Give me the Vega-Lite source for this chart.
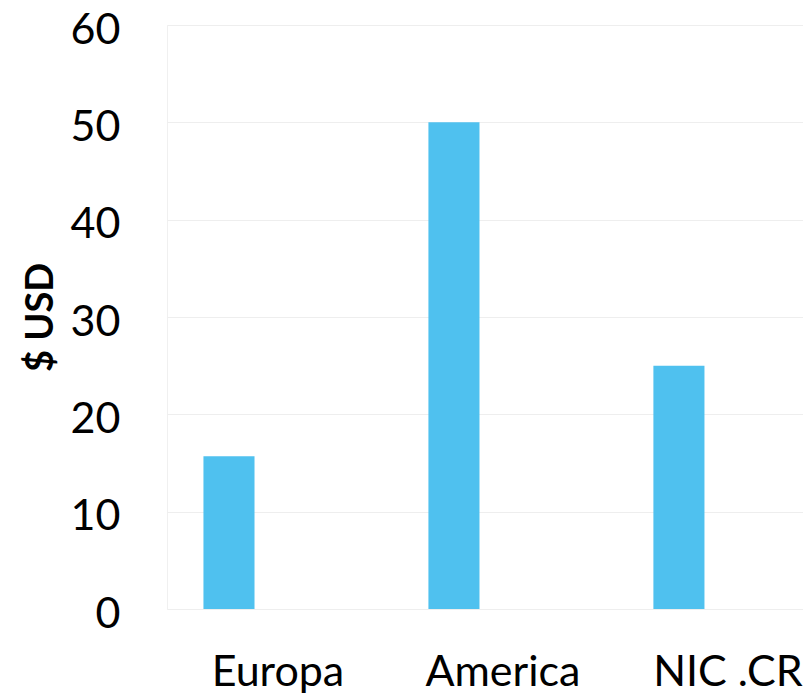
{
  "$schema": "https://vega.github.io/schema/vega-lite/v6.json",
  "autosize": "none",
  "padding": {"left": 167, "top": 25, "right": 0, "bottom": 87},
  "width": 636,
  "height": 584,
  "background": "#ffffff",
  "config": {
    "font": "Lato",
    "view": {"stroke": "#f0f0f0", "strokeWidth": 1},
    "axis": {
      "labelFont": "Lato",
      "titleFont": "Lato",
      "labelColor": "#000000",
      "titleColor": "#000000",
      "domain": false,
      "ticks": false
    }
  },
  "data": {
    "values": [
      {"region": "Europa", "usd": 15.7},
      {"region": "America", "usd": 50},
      {"region": "NIC .CR", "usd": 25}
    ]
  },
  "mark": {"type": "bar", "color": "#4FC1EF"},
  "encoding": {
    "x": {
      "field": "region",
      "type": "nominal",
      "sort": null,
      "scale": {"paddingInner": 0.773, "paddingOuter": 0.3, "align": 0.27},
      "axis": {
        "title": null,
        "labelAngle": 0,
        "labelFontSize": 43,
        "labelPadding": 42,
        "labelOffset": 49,
        "grid": false
      }
    },
    "y": {
      "field": "usd",
      "type": "quantitative",
      "scale": {"domain": [0, 60], "nice": false},
      "axis": {
        "title": "$ USD",
        "titleFontSize": 38,
        "titleFontWeight": "bold",
        "titlePadding": 10,
        "labelFontSize": 43,
        "labelPadding": 47,
        "labelOffset": 5,
        "values": [0, 10, 20, 30, 40, 50, 60],
        "grid": true,
        "gridColor": "#eeeeee",
        "gridWidth": 1
      }
    }
  }
}
